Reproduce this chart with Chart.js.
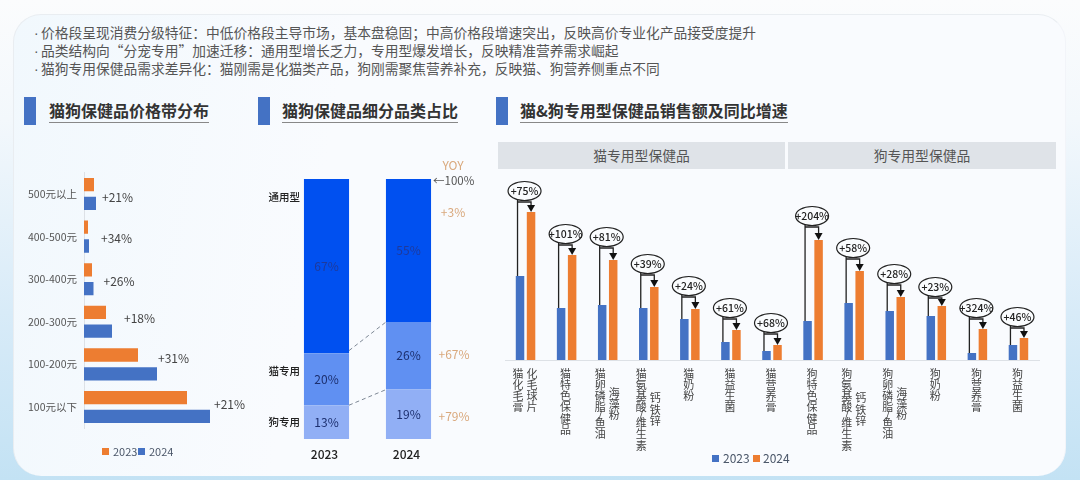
<!DOCTYPE html>
<html lang="zh">
<head>
<meta charset="utf-8">
<title>猫狗保健品</title>
<script src="https://cdn.jsdelivr.net/npm/chart.js@4"></script>
<style>
  html, body { margin: 0; padding: 0; }
  body { width: 1080px; height: 480px; overflow: hidden; position: relative;
         background: linear-gradient(180deg, #fbfcfd 0%, #f3f8fc 25%, #d8ebf8 65%, #c3e2f4 100%);
         font-family: "Noto Sans CJK SC", "Noto Sans", sans-serif; }
  #card { position: absolute; left: 13px; top: 14px; width: 1053px; height: 462px; box-sizing: border-box;
          border-radius: 28px; border: 1px solid #e9edf1; border-bottom: 0; border-right-color: #f2f4f9;
          background: linear-gradient(100deg, #f1f8fd 0%, #f9fbfe 30%, #f9fbfe 100%); }
  canvas { position: absolute; }
  .abs { position: absolute; white-space: nowrap; }
  .note { left: 34px; font-size: 13.75px; line-height: 18px; color: #555; }
  .dot { display: inline-block; width: 7px; overflow: visible; font-family: "Liberation Sans", sans-serif; }
  .mark { top: 97px; width: 12px; height: 28px; background: #4472c4; }
  .title { top: 100px; font-size: 16px; line-height: 21px; font-weight: 700; color: #333;
           border-bottom: 1.5px solid #888; height: 22px; }
  .band { top: 142px; height: 27px; line-height: 27px; background: #dfe3e8; color: #555;
          text-align: center; font-size: 13.8px; }
  .leg { font-size: 12px; line-height: 14px; color: #4a5668; }
  .sw { position: absolute; width: 7px; height: 7px; }
</style>
</head>
<body>
<div id="card"></div>
<div class="abs note" style="top:23px"><span class="dot">·</span>价格段呈现消费分级特征：中低价格段主导市场，基本盘稳固；中高价格段增速突出，反映高价专业化产品接受度提升</div>
<div class="abs note" style="top:41px"><span class="dot">·</span>品类结构向“分宠专用”加速迁移：通用型增长乏力，专用型爆发增长，反映精准营养需求崛起</div>
<div class="abs note" style="top:59px"><span class="dot">·</span>猫狗专用保健品需求差异化：猫刚需是化猫类产品，狗刚需聚焦营养补充，反映猫、狗营养侧重点不同</div>

<div class="abs mark" style="left:24px"></div>
<div class="abs title" style="left:49px">猫狗保健品价格带分布</div>
<div class="abs mark" style="left:258px"></div>
<div class="abs title" style="left:282px">猫狗保健品细分品类占比</div>
<div class="abs mark" style="left:496px"></div>
<div class="abs title" style="left:520px">猫&amp;狗专用型保健品销售额及同比增速</div>

<div class="abs band" style="left:498px;width:287px">猫专用型保健品</div>
<div class="abs band" style="left:788px;width:268px">狗专用型保健品</div>

<canvas id="c-price" width="260" height="300" style="left:0;top:150px"></canvas>
<canvas id="c-share" width="220" height="320" style="left:260px;top:150px"></canvas>
<canvas id="c-sales" width="560" height="300" style="left:490px;top:170px"></canvas>

<div class="sw" style="left:102px;top:448px;background:#ed7d31"></div>
<div class="abs leg" style="left:113px;top:444px;font-size:11px">2023</div>
<div class="sw" style="left:138px;top:448px;background:#4472c4"></div>
<div class="abs leg" style="left:149px;top:444px;font-size:11px">2024</div>
<div class="sw" style="left:712px;top:455px;background:#4472c4"></div>
<div class="abs leg" style="left:723px;top:451px">2023</div>
<div class="sw" style="left:753px;top:455px;background:#ed7d31"></div>
<div class="abs leg" style="left:763px;top:451px">2024</div>

<script>
"use strict";

const YEARS = ["2023", "2024"];

/* price bands */
const PRICE_BANDS = ["500元以上", "400-500元", "300-400元", "200-300元", "100-200元", "100元以下"];
const PRICE_2023 = [10, 4, 8, 22, 54, 103];
const PRICE_2024 = [12, 5, 9.5, 28, 73, 126];
const PRICE_YOY = ["+21%", "+34%", "+26%", "+18%", "+31%", "+21%"];

/* category share */
const SHARE_GENERAL = [67, 55];
const SHARE_CAT = [20, 26];
const SHARE_DOG = [13, 19];
const SHARE_YOY = ["+3%", "+67%", "+79%"];

/* cat & dog special products */
const PRODUCTS = [
  ["猫化毛膏", "化毛球片"], ["猫特色保健品"], ["猫卵磷脂/鱼油", "海藻粉"], ["猫氨基酸/维生素", "钙铁锌"],
  ["猫奶粉"], ["猫益生菌"], ["猫营养膏"],
  ["狗特色保健品"], ["狗氨基酸/维生素", "钙铁锌"], ["狗卵磷脂/鱼油", "海藻粉"],
  ["狗奶粉"], ["狗营养膏"], ["狗益生菌"],
];
const SALES_2023 = [84, 52, 55, 52, 41, 18, 9, 39, 57, 49, 44, 7, 15];
const SALES_2024 = [148, 105, 100, 73, 51, 30, 15, 120, 89, 63, 54, 31, 22];
const SALES_YOY = ["+75%", "+101%", "+81%", "+39%", "+24%", "+61%", "+68%", "+204%", "+58%", "+28%", "+23%", "+324%", "+46%"];

const BLUE = "#4472c4";
const ORANGE = "#ed7d31";
const AXIS = "#dde1e6";
const TAN = "#d9a87c";
const FONT = '"Noto Sans CJK SC", "Noto Sans", sans-serif';

Chart.defaults.font.family = FONT;
Chart.defaults.animation = false;

function mk(id, config) {
  config.options = config.options || {};
  config.options.responsive = false;
  config.options.plugins = Object.assign({ legend: { display: false }, tooltip: { enabled: false } }, config.options.plugins);
  return new Chart(document.getElementById(id), config);
}

function label(ctx, text, x, y, font, color, align) {
  ctx.font = font;
  ctx.fillStyle = color;
  ctx.textAlign = align || "center";
  ctx.textBaseline = "middle";
  ctx.fillText(text, x, y);
}

/* ── Price band: horizontal bars ─────────────────────────────── */
const PRICE_GAP = [6, 12, 10, 12, 1, 4];
const PRICE_DROP = [3, 1.5, 2, -3, -6, -2.5];

mk("c-price", {
  type: "bar",
  data: {
    labels: PRICE_BANDS,
    datasets: [
      { label: YEARS[0], data: PRICE_2023, backgroundColor: ORANGE, categoryPercentage: 0.883, barPercentage: 0.707 },
      { label: YEARS[1], data: PRICE_2024, backgroundColor: BLUE, categoryPercentage: 0.883, barPercentage: 0.707 },
    ],
  },
  options: {
    indexAxis: "y",
    layout: { padding: { top: 22.7, bottom: 21.7 } },
    scales: {
      x: { display: false, min: 0, max: 176 },
      y: {
        afterFit: (s) => { s.width = 84; },
        grid: { display: false, drawTicks: false },
        border: { color: AXIS },
        ticks: { color: "#555", font: { size: 10.5 }, padding: 7 },
      },
    },
  },
  plugins: [{
    id: "priceYoy",
    afterDraw(chart) {
      const { ctx, scales } = chart;
      PRICE_YOY.forEach((t, i) => {
        const x = scales.x.getPixelForValue(Math.max(PRICE_2023[i], PRICE_2024[i])) + PRICE_GAP[i];
        label(ctx, t, x, scales.y.getPixelForValue(i) + PRICE_DROP[i], "12px " + FONT, "#444", "left");
      });
    },
  }],
});

/* ── Share: 100% stacked bars with YOY column ────────────────── */
mk("c-share", {
  type: "bar",
  data: {
    labels: YEARS,
    datasets: [
      { label: "狗专用", data: SHARE_DOG, backgroundColor: "#91aff5", barPercentage: 1, categoryPercentage: 0.55 },
      { label: "猫专用", data: SHARE_CAT, backgroundColor: "#6090f2", barPercentage: 1, categoryPercentage: 0.55 },
      { label: "通用型", data: SHARE_GENERAL, backgroundColor: "#0050f0", barPercentage: 1, categoryPercentage: 0.55 },
    ],
  },
  options: {
    layout: { padding: { top: 29, left: 25.5, right: 30.5 } },
    scales: {
      x: {
        stacked: true,
        afterFit: (s) => { s.height = 31; },
        grid: { display: false, drawTicks: false },
        border: { display: false },
        ticks: { color: "#222", font: { size: 12, weight: "500" }, padding: 8, labelOffset: -2 },
      },
      y: { stacked: true, display: false, min: 0, max: 100 },
    },
  },
  plugins: [{
    id: "shareNotes",
    afterDraw(chart) {
      const { ctx, scales } = chart;
      const y = scales.y;
      const rightOf = (i) => chart.getDatasetMeta(0).data[i].x + 22.5;
      const leftOf = (i) => chart.getDatasetMeta(0).data[i].x - 22.5;

      // percentages inside the segments
      chart.data.datasets.forEach((ds, d) => {
        chart.getDatasetMeta(d).data.forEach((bar, i) => {
          const c = bar.getCenterPoint();
          label(ctx, ds.data[i] + "%", c.x, c.y, "12px " + FONT, d === 2 ? "#1e3a9c" : "#1c2f6e");
        });
      });

      // series names left of the first bar
      const firstTotal = [SHARE_DOG[0] / 2, SHARE_DOG[0] + SHARE_CAT[0] / 2 + 3, 93];
      ["狗专用", "猫专用", "通用型"].forEach((t, d) => {
        label(ctx, t, leftOf(0) - 4, y.getPixelForValue(firstTotal[d]), "500 10.5px " + FONT, "#222", "right");
      });

      // dashed connectors between the stacks
      ctx.save();
      ctx.strokeStyle = "#7d8794";
      ctx.lineWidth = 1;
      ctx.setLineDash([4, 3]);
      [[SHARE_DOG[0] + SHARE_CAT[0] + 1, SHARE_DOG[1] + SHARE_CAT[1]], [SHARE_DOG[0], SHARE_DOG[1]]].forEach(([a, b]) => {
        ctx.beginPath();
        ctx.moveTo(rightOf(0), y.getPixelForValue(a));
        ctx.lineTo(leftOf(1), y.getPixelForValue(b));
        ctx.stroke();
      });
      ctx.restore();

      // YOY column
      const yoyX = rightOf(1) + 22;
      label(ctx, "YOY", yoyX, y.getPixelForValue(100) - 14, "12px " + FONT, TAN);
      label(ctx, "←100%", rightOf(1) + 2, y.getPixelForValue(100) + 2, "11.5px " + FONT, "#555", "left");
      label(ctx, SHARE_YOY[0], yoyX, y.getPixelForValue(87), "12px " + FONT, TAN);
      label(ctx, SHARE_YOY[1], yoyX + 1, y.getPixelForValue(32.5), "12px " + FONT, TAN);
      label(ctx, SHARE_YOY[2], yoyX + 1, y.getPixelForValue(8.5), "12px " + FONT, TAN);
    },
  }],
});

/* ── Sales: grouped bars with growth callouts ────────────────── */
const CALLOUT_GAP = [21, 21, 23, 23, 23, 22, 22, 24, 23, 23, 19, 21, 21];

const charPitch = (c) => (c === "/" ? 4.6 : 11.2);
const textLength = (text) => [...text].reduce((s, c) => s + charPitch(c), 0);

function drawVerticalText(ctx, text, x, midY) {
  let y = midY - textLength(text) / 2;
  for (const c of text) {
    label(ctx, c, x, y + charPitch(c) / 2, "11px " + FONT, "#444");
    y += charPitch(c);
  }
}

mk("c-sales", {
  type: "bar",
  data: {
    labels: PRODUCTS.map(p => p.join(" ")),
    datasets: [
      { label: YEARS[0], data: SALES_2023, backgroundColor: BLUE, categoryPercentage: 0.537, barPercentage: 0.77 },
      { label: YEARS[1], data: SALES_2024, backgroundColor: ORANGE, categoryPercentage: 0.537, barPercentage: 0.77 },
    ],
  },
  options: {
    layout: { padding: { left: 15, right: 11 } },
    scales: {
      x: {
        afterFit: (s) => { s.height = 110; },
        grid: { display: false, drawTicks: false },
        border: { color: AXIS },
        ticks: { display: false },
      },
      y: { display: false, min: 0, max: 190 },
    },
  },
  plugins: [{
    id: "salesNotes",
    afterDraw(chart) {
      const { ctx, scales } = chart;
      const blue = chart.getDatasetMeta(0).data;
      const orange = chart.getDatasetMeta(1).data;

      PRODUCTS.forEach((cols, i) => {
        const cx = scales.x.getPixelForValue(i);
        const midY = scales.y.getPixelForValue(0) + 8 + textLength(cols[0]) / 2;
        if (cols.length === 1) {
          drawVerticalText(ctx, cols[0], cx - 1, midY);
        } else {
          drawVerticalText(ctx, cols[0], cx - 7.5, midY);
          drawVerticalText(ctx, cols[1], cx + 6.5, midY);
        }

        const topO = orange[i].y;
        const cy = topO - CALLOUT_GAP[i];
        const bx = blue[i].x - 2.5;
        const ox = orange[i].x;
        const elbow = cy + 11;
        ctx.save();
        ctx.strokeStyle = "#222";
        ctx.lineWidth = 1.3;
        ctx.beginPath();
        ctx.moveTo(bx, cy + 5);
        ctx.lineTo(bx, blue[i].y);
        ctx.moveTo(bx, elbow);
        ctx.lineTo(ox, elbow);
        ctx.lineTo(ox, topO - 5);
        ctx.stroke();
        ctx.fillStyle = "#111";
        ctx.beginPath();
        ctx.moveTo(ox - 4, topO - 7);
        ctx.lineTo(ox + 4, topO - 7);
        ctx.lineTo(ox, topO);
        ctx.closePath();
        ctx.fill();
        ctx.fillStyle = "#fafcfe";
        ctx.lineWidth = 1.2;
        ctx.beginPath();
        ctx.ellipse(cx - 1, cy, 16.5, 9.5, 0, 0, Math.PI * 2);
        ctx.fill();
        ctx.stroke();
        ctx.restore();
        label(ctx, SALES_YOY[i], cx - 1, cy, "500 10.5px " + FONT, "#222");
      });
    },
  }],
});
</script>
</body>
</html>
